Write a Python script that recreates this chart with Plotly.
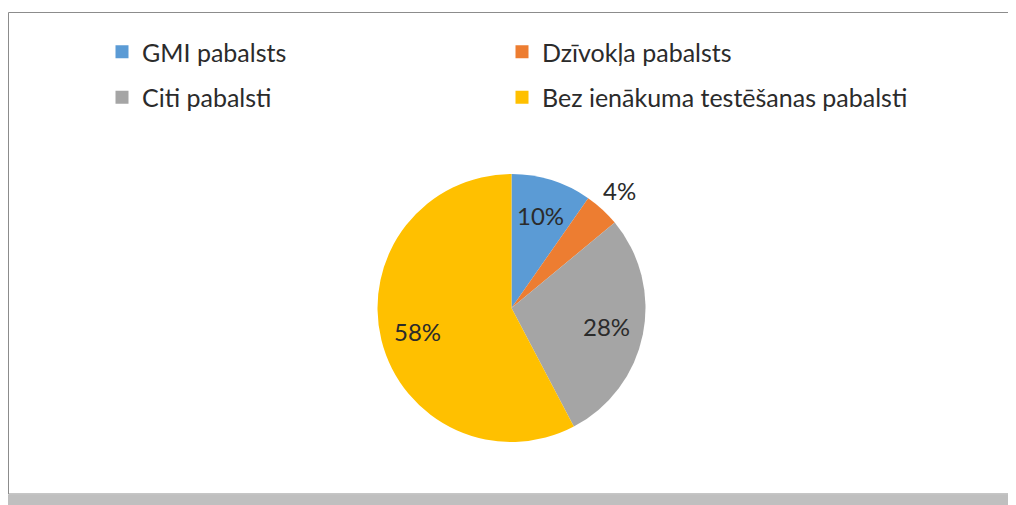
import math
import plotly.graph_objects as go

labels = ["GMI pabalsts", "Dzīvokļa pabalsts", "Citi pabalsti", "Bez ienākuma testēšanas pabalsti"]
values = [9.7, 4.3, 28.3, 57.7]
colors = ["#5B9BD5", "#ED7D31", "#A5A5A5", "#FFC000"]
label_inside = [True, False, True, True]
legend_names = ["legend", "legend2", "legend3", "legend4"]
legend_col = [0, 1, 0, 1]
legend_row = [0, 0, 1, 1]

# page body has an 8px margin, so figure is placed at (8, 8) in the window
OFF = 8
W, H = 1016 - OFF, 505 - OFF
FONT = "Lato"
TXT = "#2B2B2B"


def px(X):
    return (X - OFF) / W


def py(Y):
    return 1 - (Y - OFF) / H


fig = go.Figure()

cx, cy, r = 511.5, 308, 134
fig.add_trace(go.Pie(
    labels=labels, values=values, sort=False, direction="clockwise", rotation=0,
    marker=dict(colors=colors, line=dict(width=0)),
    textinfo="none",
    showlegend=False,
    domain=dict(x=[px(cx - r), px(cx + r)], y=[py(cy + r), py(cy - r)]),
))

# data labels placed along each slice's mid-angle
total = sum(values)
annotations = []
acc = 0.0
for v, inside in zip(values, label_inside):
    mid = (acc + v / 2) / total * 2 * math.pi
    acc += v
    rr = r * (0.72 if inside else 1.19)
    X = cx + rr * math.sin(mid)
    Y = cy - rr * math.cos(mid)
    annotations.append(dict(
        x=px(X), y=py(Y), xref="paper", yref="paper", showarrow=False,
        text=f"{round(v / total * 100)}%", xanchor="center", yanchor="middle",
        font=dict(family=FONT, size=24, color=TXT),
    ))

for lab, col, lg in zip(labels, colors, legend_names):
    fig.add_trace(go.Scatter(
        x=[None], y=[None], mode="markers", name=lab, legend=lg,
        marker=dict(symbol="square", size=13, color=col), hoverinfo="skip",
    ))

leg_common = dict(
    orientation="h", xanchor="left", yanchor="middle",
    font=dict(family=FONT, size=25, color=TXT),
    bgcolor="rgba(0,0,0,0)", itemclick=False, itemdoubleclick=False,
)

col_x = [94, 494]      # legend box left (figure px)
row_y = [44, 89.5]     # legend row middle (figure px)
legends = {}
for lg, c, rw in zip(legend_names, legend_col, legend_row):
    legends[lg] = dict(x=col_x[c] / W, y=1 - row_y[rw] / H, **leg_common)

fig.update_layout(
    width=W, height=H,
    margin=dict(l=0, r=0, t=0, b=0),
    paper_bgcolor="white", plot_bgcolor="white",
    xaxis=dict(visible=False), yaxis=dict(visible=False),
    annotations=annotations,
    shapes=[
        dict(type="rect", xref="paper", yref="paper",
             x0=0.5 / W, x1=1005.5 / W, y0=1 - 486 / H, y1=1 - 4.5 / H,
             line=dict(color="#8C8C8C", width=1), fillcolor="rgba(0,0,0,0)", layer="below"),
        dict(type="rect", xref="paper", yref="paper",
             x0=0, x1=1006 / W, y0=0, y1=1 - 486.5 / H,
             line=dict(width=0), fillcolor="#BFBFBF", layer="below"),
    ],
    **legends,
)

fig.write_html("out.html")
